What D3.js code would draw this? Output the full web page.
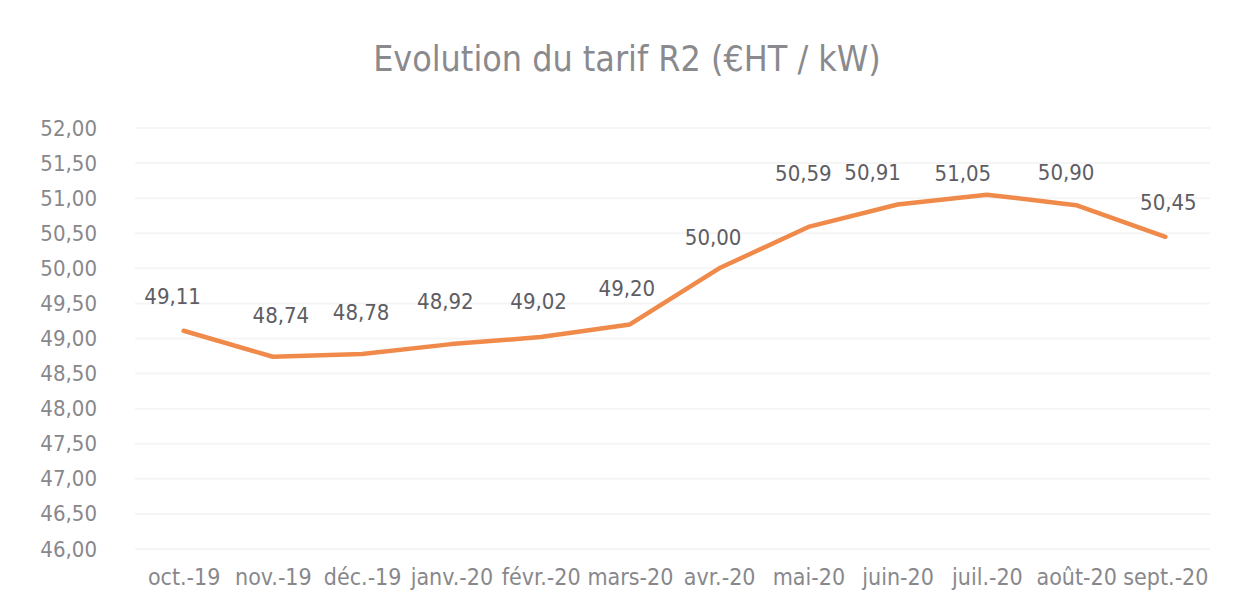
<!DOCTYPE html>
<html>
<head>
<meta charset="utf-8">
<script src="https://cdn.jsdelivr.net/npm/d3@7"></script>
<style>
  html, body { margin: 0; padding: 0; background: #ffffff; }
  svg { display: block; }
  text { font-family: "DejaVu Sans Condensed", "DejaVu Sans", sans-serif; font-stretch: condensed; }
</style>
</head>
<body>
<svg id="chart" width="1234" height="615"></svg>
<script>
// Monthly R2 tariff, €HT / kW
const months = ["oct.-19", "nov.-19", "déc.-19", "janv.-20", "févr.-20", "mars-20",
                "avr.-20", "mai-20", "juin-20", "juil.-20", "août-20", "sept.-20"];
const tariff = [49.11, 48.74, 48.78, 48.92, 49.02, 49.20,
                50.00, 50.59, 50.91, 51.05, 50.90, 50.45];
const yTicks = [46.0, 46.5, 47.0, 47.5, 48.0, 48.5, 49.0, 49.5, 50.0, 50.5, 51.0, 51.5, 52.0];

// Per-label nudges (dx, dy in px) so value labels sit clear of the line
const labelNudge = [[-11, -35], [8, -42], [-1, -42], [-6, -43], [-2, -36], [-3, -36],
                    [-6, -31], [-5, -54], [-25, -32], [-24, -22], [-10, -33], [3, -35]];

const svg = d3.select("#chart");
const margin = { left: 139, right: 24, top: 128, bottom: 66 };
const W = 1234, H = 615;

const x = d3.scalePoint().domain(months).range([margin.left, W - margin.right]).padding(0.5);
const y = d3.scaleLinear().domain([46, 52]).range([H - margin.bottom, margin.top]);

const fmt = v => v.toFixed(2).replace(".", ",");

// Title
svg.append("text")
  .attr("x", 627).attr("y", 71)
  .attr("text-anchor", "middle")
  .attr("font-size", 35.5)
  .attr("fill", "#8a8a8e")
  .text("Evolution du tarif R2 (€HT / kW)");

// Horizontal gridlines
svg.append("g")
  .selectAll("line")
  .data(yTicks)
  .join("line")
  .attr("x1", margin.left - 4).attr("x2", W - margin.right)
  .attr("y1", d => y(d)).attr("y2", d => y(d))
  .attr("stroke", "#f5f5f5").attr("stroke-width", 2);

// Y axis labels
const yAxis = d3.axisLeft(y).tickValues(yTicks).tickFormat(fmt).tickSize(0).tickPadding(0);
svg.append("g")
  .attr("transform", `translate(97,0)`)
  .call(yAxis)
  .call(g => g.select(".domain").remove())
  .call(g => g.selectAll("text")
    .attr("font-size", 22)
    .attr("fill", "#88888c")
    .attr("font-family", null));

// X axis labels
const xAxis = d3.axisBottom(x).tickSize(0).tickPadding(0);
svg.append("g")
  .attr("transform", `translate(0,${H - 46})`)
  .call(xAxis)
  .call(g => g.select(".domain").remove())
  .call(g => g.selectAll("text")
    .attr("font-size", 23)
    .attr("fill", "#88888c")
    .attr("font-family", null));

// Tariff line
const line = d3.line()
  .x((d, i) => x(months[i]))
  .y(d => y(d));

svg.append("path")
  .datum(tariff)
  .attr("d", line)
  .attr("fill", "none")
  .attr("stroke", "#f08a4b")
  .attr("stroke-width", 4.5)
  .attr("stroke-linejoin", "round")
  .attr("stroke-linecap", "round");

// Value labels
svg.append("g")
  .selectAll("text")
  .data(tariff)
  .join("text")
  .attr("x", (d, i) => x(months[i]) + labelNudge[i][0])
  .attr("y", (d, i) => y(d) + labelNudge[i][1])
  .attr("dy", "0.36em")
  .attr("text-anchor", "middle")
  .attr("font-size", 22)
  .attr("fill", "#5d5d63")
  .text(fmt);
</script>
</body>
</html>
